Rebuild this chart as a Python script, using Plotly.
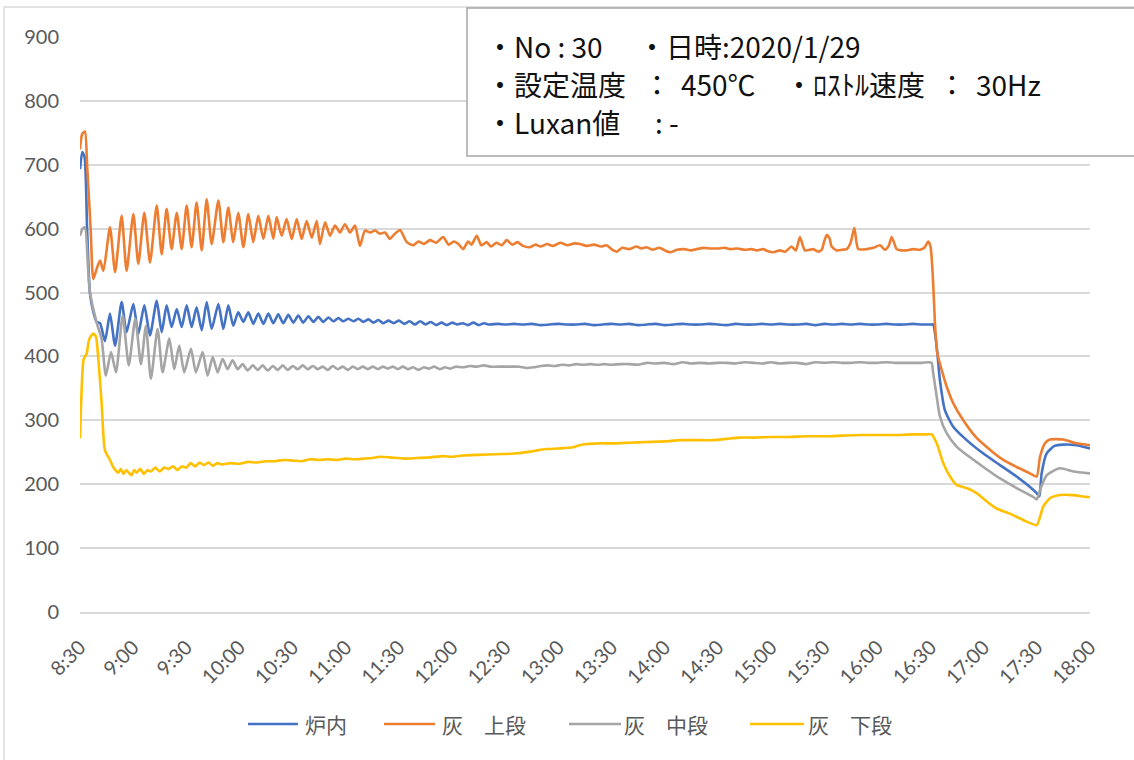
import plotly.graph_objects as go

# ---- time axis: minutes after 8:30 ----
tick_minutes = list(range(0, 571, 30))
tick_labels = ["8:30", "9:00", "9:30", "10:00", "10:30", "11:00", "11:30", "12:00",
               "12:30", "13:00", "13:30", "14:00", "14:30", "15:00", "15:30", "16:00",
               "16:30", "17:00", "17:30", "18:00"]

series_names = ["炉内", "灰\u3000上段", "灰\u3000中段", "灰\u3000下段"]
series_colors = ["#4472C4", "#ED7D31", "#A5A5A5", "#FFC000"]

# 炉内
furnace_t = [0, 1.3, 2.6, 4.0, 5.6, 7.5, 9.4, 11.3, 14.1, 16.9, 19.8, 23.5, 26.3, 30.1, 32.9,
             36.3, 39.5, 43.3, 46.1, 48.9, 51.7, 54.6, 57.4, 60.2, 63.0, 65.8, 68.7, 71.5,
             74.3, 78.1, 80.9, 83.7, 86.5, 89.3, 92.2, 95.0, 97.8, 100.6, 103.5, 106.3,
             109.1, 111.9, 114.7, 117.6, 120.4, 123.2, 126.0, 128.9, 131.7, 134.5, 137.3,
             140.2, 143.0, 145.8, 148.6, 151.5, 154.3, 157.1, 159.9, 162.8, 165.6, 168.4,
             171.2, 174.1, 177, 180, 183, 186, 189, 192, 195, 198, 201, 204, 207, 210, 213,
             216, 219, 222, 225, 228, 231, 236, 240, 245, 250, 255, 260, 265, 270, 275, 280,
             285, 290, 295, 300, 305, 310, 315, 320, 325, 330, 335, 340, 345, 350, 355, 360,
             365, 370, 375, 380, 385, 390, 395, 400, 405, 410, 415, 420, 425, 430, 435, 440,
             445, 450, 455, 460, 465, 470, 475, 480.6, 481.5, 483.5, 485.3, 488.1, 492.8,
             500.4, 509.8, 519.2, 528.6, 536.0, 539.9, 541.4, 542.7, 545.5, 550, 555, 562.4,
             570]
furnace_v = [693, 720, 712, 600, 499, 470, 454, 452, 424, 467, 417, 485, 438, 482, 435,
             480, 433, 487, 438, 480, 446, 474, 446, 480, 446, 477, 441, 485,
             443, 482, 443, 480, 448, 469, 454, 469, 451, 467, 451, 467,
             452, 466, 452, 465, 453, 464, 453, 463, 454, 462, 454,
             461, 455, 460, 455, 459, 455, 459, 454, 458, 453, 457,
             452, 456, 452, 456, 451, 455, 450, 455, 450, 454, 449, 453, 449, 453, 450, 452,
             449, 453, 449, 452, 450, 451, 450, 451, 450, 451, 449, 450, 451, 450, 450, 451,
             449, 450, 451, 450, 451, 449, 450, 451, 449, 450, 451, 450, 450, 451, 450, 449,
             451, 450, 450, 451, 450, 451, 450, 450, 451, 449, 451, 450, 451, 450, 451, 450,
             450, 451, 450, 450, 451, 450, 450, 450, 415, 363, 316, 290, 269,
             248, 230, 212, 196, 186, 181, 217, 248, 260, 262, 261, 256,
             252]

# 灰 上段
upper_t = [0, 1.2, 2.8, 4.0, 6.0, 7.5, 9.4, 11.3, 13.2, 16.9, 19.8, 23.5, 26.3, 30.1, 32.9,
           36.3, 39.5, 43.3, 46.1, 48.9, 51.7, 54.6, 57.4, 60.2, 63.0, 65.8, 68.7, 71.5,
           74.3, 78.1, 80.9, 83.7, 86.5, 89.3, 92.2, 95.0, 97.8, 100.6, 103.5, 106.3,
           109.1, 111.0, 113.8, 116.6, 119.5, 122.3, 125.1, 127.9, 130.8, 133.6, 135.4,
           138.3, 141.1, 143.9, 146.7, 149.5, 152.4, 155.2, 158.0, 160.8, 163.7, 166.5,
           169.3, 172.1, 174.9, 177, 180.6, 184.4, 188.1, 191, 194, 197.5, 201, 205, 208,
           211, 213.5, 216.3, 219, 221, 223.9, 226.5, 229.5, 232, 235, 238, 240.8, 244,
           247, 250, 254, 257, 260, 263.4, 267, 271, 275, 279, 282.2, 286, 290, 294, 297,
           301, 303, 306, 310, 314, 317, 319.8, 323, 327, 330, 333, 337, 341, 345, 348,
           352, 356, 360, 364, 367, 371, 375, 379, 382, 385.6, 388, 391.3, 395, 398,
           401.6, 404, 406.3, 409.1, 413.8, 416.5, 418.6, 420, 421.4, 423, 424.2, 427,
           430, 432.7, 434.9, 437, 439.2, 443.9, 447.7, 451.5, 454.3, 456.5, 458.1,
           460.9, 463.5, 466.5, 470.3, 474, 476.5, 478.7, 480, 481.5, 482.5, 483.8,
           486.3, 489.1, 492.8, 498.5, 505.5, 513.5, 521.1, 528.6, 536.1, 539.9, 541.8,
           544.6, 547.4, 554.9, 562.4, 570]
upper_v = [724, 748, 752, 700, 600, 521, 537, 550, 534, 602, 532, 620, 534, 623, 545,
           625, 547, 636, 560, 631, 568, 625, 568, 636, 571, 641, 566, 646,
           576, 644, 579, 633, 579, 625, 571, 623, 579, 620, 584, 620,
           584, 618, 589, 615, 584, 615, 584, 612, 586, 612, 576,
           610, 589, 605, 594, 607, 594, 605, 573, 597, 594, 597,
           592, 594, 584, 590, 598, 579, 574, 580, 576, 582, 578, 587, 575,
           580, 576, 568, 580, 575, 589, 574, 579, 572, 578, 574, 582, 575,
           579, 573, 571, 575, 572, 576, 573, 578, 574, 577, 576, 573, 575, 572, 574,
           566, 564, 570, 568, 572, 569, 571, 567, 570, 566, 563, 567, 568, 566, 568,
           570, 569, 569, 570, 568, 569, 567, 568, 566, 568, 565, 563, 566, 564,
           572, 566, 587, 566, 568, 564, 567, 580, 590, 585, 572, 566,
           567, 568, 578, 601, 568, 568, 570, 574, 567, 574, 587,
           568, 566, 566, 568, 567, 570, 580, 572, 514, 452, 405,
           379, 353, 327, 300, 274, 254, 238, 227, 217, 212, 243,
           264, 270, 270, 264, 261]

# 灰 中段
middle_t = [0, 1.5, 2.8, 4.5, 5.6, 9.4, 12.2, 14.6, 17.5, 20.3, 24.1, 27.5, 31.2, 34.4,
            37.2, 40.0, 43.8, 46.6, 50.4, 53.2, 56.0, 58.8, 62.6, 65.4, 69.2, 72.0, 74.9,
            77.7, 80.5, 83.3, 86.1, 89.0, 91.8, 94.6, 97.5, 100.3, 103.1, 105.9, 108.8,
            111.6, 114.4, 117.2, 120.1, 122.9, 125.7, 128.5, 131.4, 134.2, 137.0, 139.8,
            142.7, 145.5, 148.3, 151.1, 154.0, 156.8, 159.6, 162.4, 165.3, 168.1, 170.9,
            173.7, 176.6, 179.4, 182.2, 185.0, 188, 191, 194, 197, 200, 203, 206, 209, 212,
            216, 220, 224, 228, 232, 236, 240, 244, 248, 252, 256, 260, 264, 268, 272, 276,
            280, 284, 288, 292, 296, 300, 305, 310, 315, 320, 325, 330, 335, 340, 345, 350,
            355, 360, 365, 370, 375, 380, 385, 390, 395, 400, 405, 410, 415, 420, 425, 430,
            435, 440, 445, 450, 455, 460, 465, 470, 475, 479, 480.6, 481.5, 483.5, 485.3,
            489.1, 494.7, 500.4, 509.8, 519.2, 528.6, 538.0, 539.9, 541.8, 545.5, 553.0,
            560.6, 570]
middle_v = [589, 600, 602, 540, 500, 453, 427, 370, 407, 375, 464, 386, 459, 388,
            448, 365, 443, 375, 428, 380, 417, 375, 412, 375, 407, 370, 399,
            375, 396, 380, 394, 380, 388, 378, 386, 379, 386, 378, 385,
            379, 386, 379, 385, 380, 386, 380, 385, 380, 384, 379,
            385, 380, 384, 379, 384, 380, 384, 380, 384, 380, 384,
            381, 384, 380, 384, 380, 383, 379, 383, 381, 384, 380, 383, 381, 384,
            383, 385, 384, 386, 384, 384, 384, 384, 384, 382, 383, 385, 386, 385, 387, 386,
            388, 387, 388, 387, 388, 387, 388, 388, 387, 390, 389, 390, 388, 391, 389, 390,
            389, 390, 390, 389, 391, 390, 389, 391, 389, 390, 390, 388, 391, 390, 391, 390,
            390, 391, 390, 390, 391, 390, 390, 390, 390, 391, 390, 374, 337, 306,
            280, 259, 246, 227, 209, 194, 180, 176, 191, 214, 225,
            220, 217]

# 灰 下段
lower_t = [0, 1.0, 2.0, 3.8, 5.0, 6.0, 7.5, 9.0, 10.4, 12.2, 14.1, 16.9, 18.5, 20.0, 21.5,
           23.0, 24.5, 26.0, 27.5, 29.0, 30.5, 32.0, 34.0, 36.0, 38.0, 40.0, 42.5, 45.0,
           47.5, 50.0, 52.5, 55.0, 57.5, 60.0, 62.5, 65.0, 67.5, 70.0, 72.5, 75.0, 77.5,
           80.0, 85, 90, 95, 100, 105, 110, 115, 120, 125, 130, 135, 140, 145, 150, 155,
           160, 165, 169.3, 175, 183, 190, 197.5, 205, 210, 216.3, 225, 235, 245, 254, 258,
           263.4, 270, 278.4, 282, 285.9, 293, 301, 310, 319.8, 330, 338.6, 348, 357.4,
           365, 372.5, 380, 391.3, 400, 410, 420, 430, 440, 450, 460, 470, 478, 480.6,
           483.5, 487.2, 491.0, 494.7, 500.4, 506.0, 511.7, 517.3, 524.8, 532.3, 539.9,
           541.8, 543.6, 547.4, 553.0, 560.6, 568.1, 570]
lower_v = [272, 353, 395, 405, 425, 431, 436, 431, 394, 327, 253, 238, 228, 222, 218,
           224, 216, 222, 218, 214, 222, 218, 224, 216, 222, 220, 226, 220,
           226, 224, 228, 222, 228, 226, 233, 228, 234, 230, 234, 229, 233,
           231, 233, 232, 235, 234, 236, 236, 238, 237, 236, 239, 238, 239, 238, 240, 239,
           240, 241, 243, 242, 240, 241, 242, 244, 243, 245, 246, 247, 248, 251, 253,
           255, 256, 258, 261, 263, 264, 264, 265, 266, 267, 269, 269, 269,
           271, 273, 273, 274, 274, 275, 275, 276, 277, 277, 277, 278, 278, 278,
           264, 233, 212, 199, 194, 186, 173, 162, 154, 144, 136,
           149, 165, 178, 183, 183, 180, 180]

# ---- info box lines (text segments) ----
info_segments = [
    ("・No : 30", 484, 46), ("・日時:2020/1/29", 636, 46),
    ("・設定温度", 484, 84), ("：", 641, 84), ("450℃", 679, 84),
    ("・ﾛｽﾄﾙ速度", 783, 84), ("：", 936, 84), ("30Hz", 974, 84),
    ("・Luxan値", 484, 122), (": -", 653, 122),
]

W, H = 1134, 760
L, R, T, B = 80, 44, 37, 148


def px(x):
    return (x - L) / (W - L - R)


def py(y):
    return (H - B - y) / (H - T - B)


fig = go.Figure()
for name, color, t, v in zip(series_names, series_colors,
                             [furnace_t, upper_t, middle_t, lower_t],
                             [furnace_v, upper_v, middle_v, lower_v]):
    fig.add_trace(go.Scatter(x=t, y=v, mode="lines", name=name,
                             line=dict(color=color, width=2.6, shape="spline", smoothing=0.6),
                             showlegend=False))

shapes = []
annotations = []

# outer chart frame
shapes.append(dict(type="line", xref="paper", yref="paper", x0=px(4), x1=px(4),
                   y0=py(760), y1=py(7), line=dict(color="#d9d9d9", width=1.5)))
shapes.append(dict(type="line", xref="paper", yref="paper", x0=px(4), x1=px(1140),
                   y0=py(7), y1=py(7), line=dict(color="#d9d9d9", width=1.5)))

# info box
shapes.append(dict(type="rect", xref="paper", yref="paper", x0=px(467), x1=px(1150),
                   y0=py(156), y1=py(8), fillcolor="white",
                   line=dict(color="#a6a6a6", width=1.5), layer="above"))
for txt, x, y in info_segments:
    annotations.append(dict(text=txt, xref="paper", yref="paper", x=px(x), y=py(y),
                            xanchor="left", yanchor="middle", showarrow=False,
                            font=dict(family="Noto Sans CJK JP", size=28, color="#111111")))

# legend drawn below the plot
legend_line_x = [(248, 298), (384, 435), (569, 621), (750, 804)]
legend_text_x = [303, 440, 622, 806]
for name, color, (a, b), tx in zip(series_names, series_colors, legend_line_x, legend_text_x):
    shapes.append(dict(type="line", xref="paper", yref="paper", x0=px(a), x1=px(b),
                       y0=py(724), y1=py(724), line=dict(color=color, width=2.6)))
    annotations.append(dict(text=name, xref="paper", yref="paper", x=px(tx), y=py(724),
                            xanchor="left", yanchor="middle", showarrow=False,
                            font=dict(family="Noto Sans CJK JP", size=21, color="#595959")))

fig.update_layout(
    width=W, height=H,
    margin=dict(l=L, r=R, t=T, b=B, pad=0),
    paper_bgcolor="white", plot_bgcolor="white",
    shapes=shapes, annotations=annotations,
    xaxis=dict(range=[0, 570], tickmode="array", tickvals=tick_minutes, ticktext=tick_labels,
               tickangle=-45, showgrid=False, zeroline=False,
               showline=True, linecolor="#d9d9d9", linewidth=1.5, ticks="",
               ticklabelstandoff=14,
               tickfont=dict(family="Lato", size=20, color="#595959")),
    yaxis=dict(range=[0, 900], tickmode="linear", tick0=0, dtick=100,
               showgrid=True, gridcolor="#d9d9d9", gridwidth=1.5, zeroline=False,
               showline=False, ticks="", ticklabelstandoff=20,
               tickfont=dict(family="Lato", size=20, color="#595959")),
)

fig.write_html("out.html")
